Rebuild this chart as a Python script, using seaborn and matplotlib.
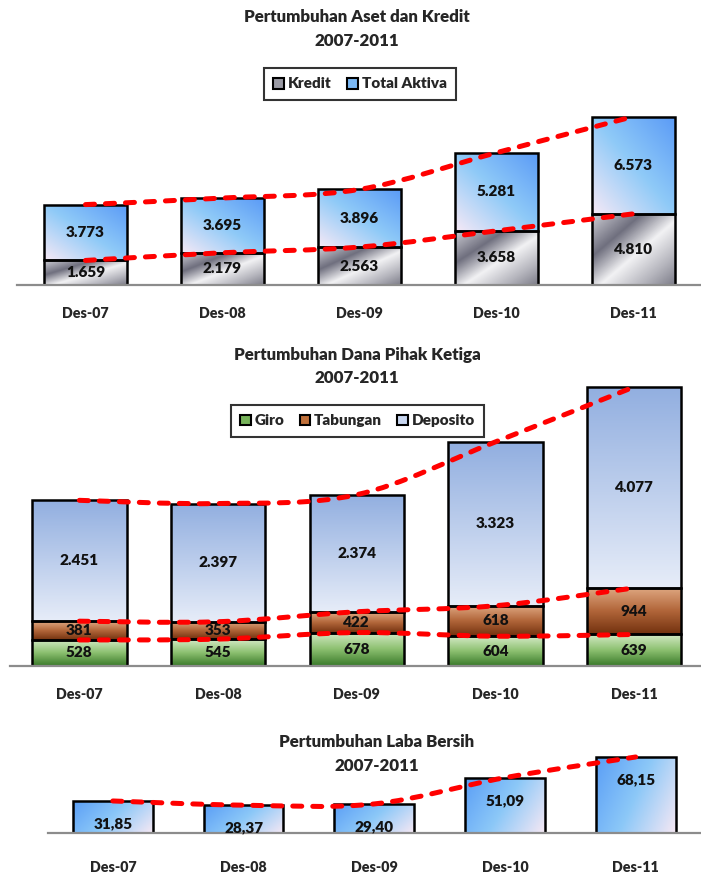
import numpy as np
import matplotlib
matplotlib.use("Agg")
import matplotlib.pyplot as plt
import seaborn as sns
from matplotlib.path import Path
from matplotlib.patches import PathPatch, Patch
from matplotlib.colors import LinearSegmentedColormap

# data
periode = ["Des-07", "Des-08", "Des-09", "Des-10", "Des-11"]
kredit = [1659, 2179, 2563, 3658, 4810]
total_aktiva = [3773, 3695, 3896, 5281, 6573]
giro = [528, 545, 678, 604, 639]
tabungan = [381, 353, 422, 618, 944]
deposito = [2451, 2397, 2374, 3323, 4077]
laba_bersih = [31.85, 28.37, 29.40, 51.09, 68.15]

sns.set_style("white")
plt.rcParams['font.family'] = ['Lato', 'DejaVu Sans']
plt.rcParams['font.weight'] = 'heavy'
TEBAL = "heavy"

W, H = 701, 875
fig = plt.figure(figsize=(W / 100, H / 100), dpi=100)


def px_axes(left, right, top, bottom):
    return fig.add_axes([left / W, 1 - bottom / H, (right - left) / W, (bottom - top) / H])


cm_kredit = LinearSegmentedColormap.from_list("k", [(0, "#cfcfd6"), (0.3, "#6f6f7e"), (0.55, "#f2f2f4"),
                                                    (0.8, "#b4b4bc"), (1, "#7c7c88")])
cm_aktiva = LinearSegmentedColormap.from_list("a", ["#f6e9f6", "#8fcaf8", "#5a9af6"])
cm_depo = LinearSegmentedColormap.from_list("d", ["#e6ecf8", "#92afe0"])
cm_tab = LinearSegmentedColormap.from_list("t", ["#73320f", "#b2663a", "#dfa882"])
cm_giro = LinearSegmentedColormap.from_list("g", ["#3a7a2a", "#8cc070", "#d4eac6"])
cm_laba = LinearSegmentedColormap.from_list("l", ["#5a9ef6", "#8cc8f8", "#f6e8f4"])

uu, vv = np.meshgrid(np.linspace(0, 1, 80), np.linspace(0, 1, 80))
GRAD = {
    "naik": (uu + vv) / 2,          # kiri bawah -> kanan atas
    "turun": (uu + (1 - vv)) / 2,   # kiri atas -> kanan bawah
    "vertikal": vv,
    "laba": 0.7 * uu + 0.3 * (1 - vv),
}


def isi_gradien(ax, container, cmap, arah, ymin=0):
    for p in container.patches:
        x0, y0, w, h = p.get_x(), p.get_y(), p.get_width(), p.get_height()
        p.set_facecolor("none")
        lo = max(y0, ymin)
        im = ax.imshow(GRAD[arah], cmap=cmap, extent=[x0, x0 + w, lo, y0 + h], origin="lower",
                       aspect="auto", interpolation="bilinear", zorder=p.get_zorder() - 0.05)
        im.set_clip_path(p)


def garis_halus(ax, x, y):
    p = np.column_stack([x, y]).astype(float)
    ext = np.vstack([p[0], p, p[-1]])
    verts, codes = [p[0]], [Path.MOVETO]
    for i in range(len(p) - 1):
        p0, p1, p2, p3 = ext[i], ext[i + 1], ext[i + 2], ext[i + 3]
        verts += [p1 + (p2 - p0) / 6, p2 - (p3 - p1) / 6, p2]
        codes += [Path.CURVE4] * 3
    ax.add_patch(PathPatch(Path(verts, codes), fill=False, edgecolor="#ff0000", lw=3.6,
                           linestyle=(0, (1.8, 2.2)), capstyle="round", zorder=10))


def gaya_sumbu(ax, ylim, xmax=4.5, pad=16):
    ax.set_xlim(-0.5, xmax)
    ax.set_ylim(*ylim)
    ax.set_yticks([])
    ax.set_ylabel("")
    ax.set_xlabel("")
    for s in ["left", "top", "right"]:
        ax.spines[s].set_visible(False)
    ax.spines["bottom"].set_color("#8c8c8c")
    ax.spines["bottom"].set_linewidth(1.6)
    ax.set_xticks(range(5))
    ax.set_xticklabels(periode, fontsize=10.3, fontweight=TEBAL)
    ax.set_xticks(np.arange(-0.5, 5, 1), minor=True)
    ax.tick_params(axis="x", which="major", length=0, pad=pad)
    ax.tick_params(axis="x", which="minor", length=5, width=1.5, color="#8c8c8c", direction="out")


def fmt_ribu(v):
    return f"{v:,}".replace(",", ".")


def judul(x, y1, y2, teks):
    fig.text(x / W, 1 - y1 / H, teks, ha="center", va="center", fontsize=12.2, fontweight=TEBAL)
    fig.text(x / W, 1 - y2 / H, "2007-2011", ha="center", va="center", fontsize=12.2, fontweight=TEBAL)


lbl = dict(fontsize=11, fontweight=TEBAL, color="#111111")
bar_kw = dict(edgecolor="black", linewidth=1.8, errorbar=None)
leg_kw = dict(loc="center", frameon=True, fancybox=False, edgecolor="black",
              prop=dict(size=11, weight=TEBAL), handlelength=0.7, handleheight=0.7,
              handletextpad=0.25, columnspacing=1.0, borderpad=0.6)

# ---- Panel 1: Aset dan Kredit
ax1 = px_axes(17, 702, 60, 285)
sns.barplot(x=periode, y=kredit, width=0.61, ax=ax1, color="#999999", **bar_kw)
c_kredit = ax1.containers[-1]
sns.barplot(x=periode, y=total_aktiva, bottom=kredit, width=0.61, ax=ax1, color="#7ab8f5", **bar_kw)
c_aktiva = ax1.containers[-1]
isi_gradien(ax1, c_kredit, cm_kredit, "turun")
isi_gradien(ax1, c_aktiva, cm_aktiva, "naik")
ax1.bar_label(c_kredit, labels=[fmt_ribu(v) for v in kredit], label_type="center", zorder=12, **lbl)
ax1.bar_label(c_aktiva, labels=[fmt_ribu(v) for v in total_aktiva], label_type="center", zorder=12, **lbl)
top1 = np.add(kredit, total_aktiva)
garis_halus(ax1, range(5), kredit)
garis_halus(ax1, range(5), top1)
gaya_sumbu(ax1, (0, 15200), pad=16)

judul(357, 17, 41, "Pertumbuhan Aset dan Kredit")
h1 = [Patch(facecolor="#9a9aa4", edgecolor="black", lw=1.5, label="Kredit"),
      Patch(facecolor="#7ab8f5", edgecolor="black", lw=1.5, label="Total Aktiva")]
leg1 = fig.legend(handles=h1, bbox_to_anchor=(360 / W, 1 - 84 / H), ncol=2, **leg_kw)
leg1.get_frame().set_linewidth(1.5)

# ---- Panel 2: Dana Pihak Ketiga
ax2 = px_axes(10, 703.5, 380, 666)
sns.barplot(x=periode, y=giro, width=0.68, ax=ax2, color="#77b35a", **bar_kw)
c_giro = ax2.containers[-1]
sns.barplot(x=periode, y=tabungan, bottom=giro, width=0.68, ax=ax2, color="#c0703a", **bar_kw)
c_tab = ax2.containers[-1]
bawah_depo = np.add(giro, tabungan)
sns.barplot(x=periode, y=deposito, bottom=bawah_depo, width=0.68, ax=ax2, color="#c8d6f0", **bar_kw)
c_depo = ax2.containers[-1]
isi_gradien(ax2, c_giro, cm_giro, "vertikal")
isi_gradien(ax2, c_tab, cm_tab, "vertikal")
isi_gradien(ax2, c_depo, cm_depo, "vertikal")
for c, vals in [(c_giro, giro), (c_tab, tabungan), (c_depo, deposito)]:
    ax2.bar_label(c, labels=[fmt_ribu(v) for v in vals], label_type="center", zorder=12, **lbl)
garis_halus(ax2, range(5), giro)
garis_halus(ax2, range(5), bawah_depo)
garis_halus(ax2, range(5), bawah_depo + np.array(deposito))
gaya_sumbu(ax2, (0, 5800), pad=16)

judul(357, 355, 378, "Pertumbuhan Dana Pihak Ketiga")
h2 = [Patch(facecolor="#77b35a", edgecolor="black", lw=1.5, label="Giro"),
      Patch(facecolor="#c0703a", edgecolor="black", lw=1.5, label="Tabungan"),
      Patch(facecolor="#c8d6f0", edgecolor="black", lw=1.5, label="Deposito")]
leg2 = fig.legend(handles=h2, bbox_to_anchor=(357.5 / W, 1 - 421 / H), ncol=3, **leg_kw)
leg2.get_frame().set_linewidth(1.5)

# ---- Panel 3: Laba Bersih
ymin3 = 5.4
ax3 = px_axes(47.5, 701, 735, 833)
sns.barplot(x=periode, y=laba_bersih, width=0.61, ax=ax3, color="#7ab8f5", **bar_kw)
c_laba = ax3.containers[-1]
isi_gradien(ax3, c_laba, cm_laba, "laba", ymin=ymin3)
ax3.bar_label(c_laba, labels=[f"{v:.2f}".replace(".", ",") for v in laba_bersih], label_type="edge",
              padding=-21, zorder=12, **lbl)
garis_halus(ax3, range(5), laba_bersih)
gaya_sumbu(ax3, (ymin3, 86.3), xmax=4.455, pad=20)

judul(377, 742, 766, "Pertumbuhan Laba Bersih")

plt.savefig("out.png", dpi=100)
